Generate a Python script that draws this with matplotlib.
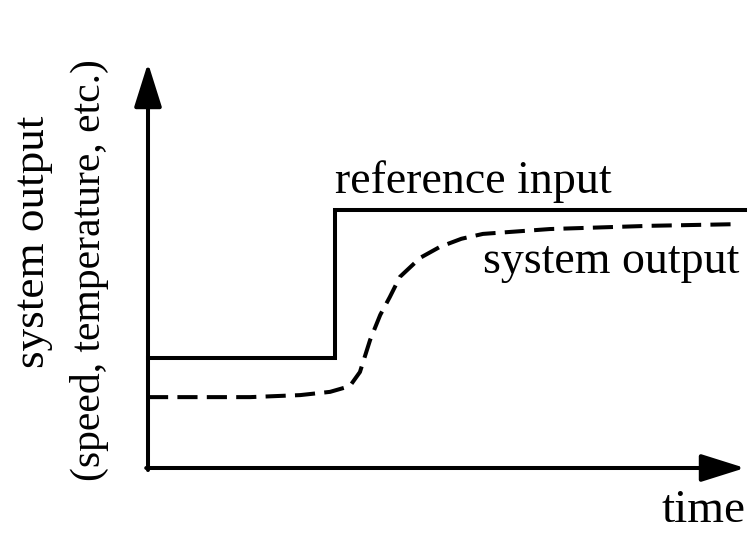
import matplotlib
matplotlib.use('Agg')
import matplotlib.pyplot as plt

plt.rcParams['font.family'] = ['Liberation Serif', 'DejaVu Serif']

# Reference input (step), in arbitrary time / output units
ref_t = [0.0, 3.13, 10.0]
ref_y = [2.72, 6.37, 6.37]

# System output (dashed response)
out_t = [0.0, 1.71, 2.55, 3.05, 3.38, 3.55, 3.72, 3.89, 4.05, 4.22, 4.56, 4.89, 5.25, 5.61, 6.73, 8.41, 9.83]
out_y = [1.75, 1.75, 1.80, 1.88, 2.02, 2.37, 3.16, 3.78, 4.22, 4.72, 5.19, 5.46, 5.66, 5.78, 5.90, 5.98, 6.02]

W, H = 750, 534
fig = plt.figure(figsize=(W / 100, H / 100), dpi=100)
ax = fig.add_axes([148 / W, (H - 468) / H, 597 / W, 405 / H])
ax.set_xlim(0, 10)
ax.set_ylim(0, 10)
ax.axis('off')

lw = 2.9
arrow = dict(arrowstyle='-|>,head_length=27,head_width=8.5', mutation_scale=1,
             lw=lw, color='k', shrinkA=0, shrinkB=0)
# axes with arrow heads
ax.annotate('', xy=(0, 10), xytext=(0, -0.05), arrowprops=arrow, annotation_clip=False)
ax.annotate('', xy=(10, 0), xytext=(-0.03, 0), arrowprops=arrow, annotation_clip=False)

ax.plot(ref_t, ref_y, color='k', lw=lw, drawstyle='steps-post', clip_on=False,
        solid_joinstyle='miter')
ax.plot(out_t, out_y, color='k', lw=lw, linestyle=(0, (5, 2.3)), clip_on=False)

ax.text(ref_t[1], 6.79, 'reference input', fontsize=33, ha='left', va='baseline')
ax.text(5.61, 4.81, 'system output', fontsize=33, ha='left', va='baseline')
ax.text(10, -1.33, 'time', fontsize=34, ha='right', va='baseline')

fig.text(33 / W, 1 - 242 / H, 'system output', fontsize=32.5, rotation=90,
         ha='center', va='center')
fig.text(89 / W, 1 - 270 / H, '(speed, temperature, etc.)', fontsize=30, rotation=90,
         ha='center', va='center')

plt.savefig('out.png', dpi=100)
